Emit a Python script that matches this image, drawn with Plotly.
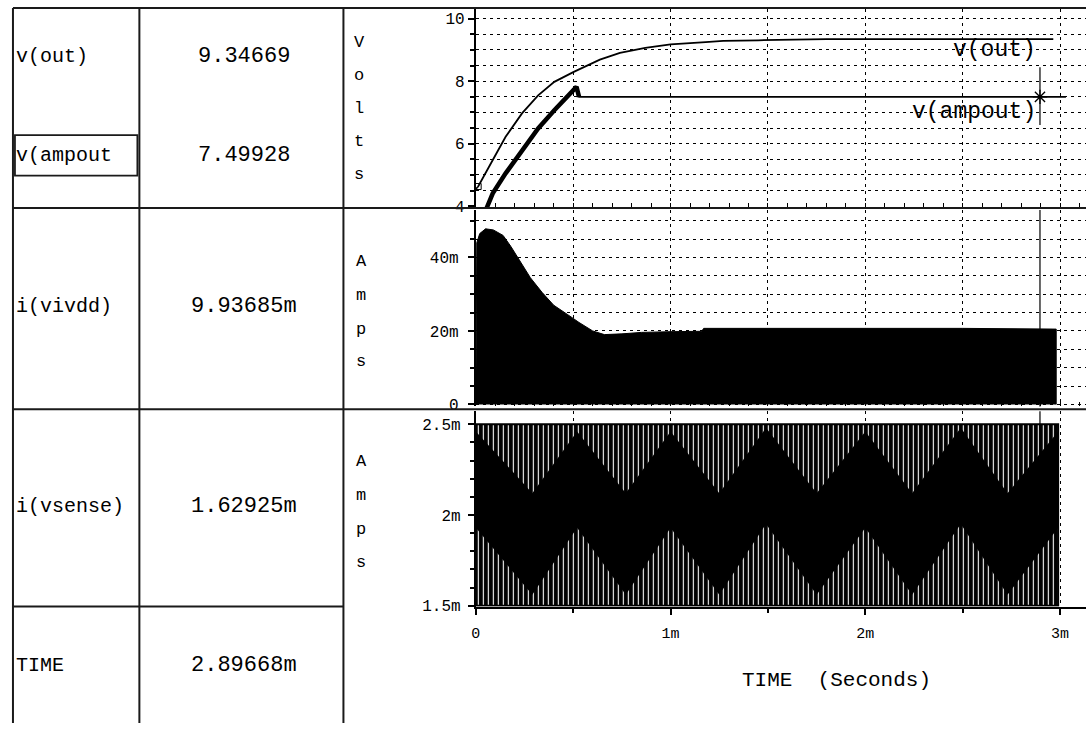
import plotly.graph_objects as go

W, H = 1086, 733
FONT = "Liberation Mono"

# ---------------- data ----------------
# v(out) [V] vs time [ms]
vout_t_ms = [0.0, 0.012, 0.087, 0.153, 0.237, 0.32, 0.403, 0.503, 0.637, 0.74, 0.87,
             1.0, 1.18, 1.27, 1.45, 1.63, 1.8, 2.2, 2.6, 2.965]
vout_v = [4.55, 4.63, 5.48, 6.22, 6.97, 7.55, 7.98, 8.30, 8.69, 8.91, 9.07,
          9.18, 9.25, 9.29, 9.31, 9.33, 9.345, 9.347, 9.347, 9.347]

# v(ampout) [V] vs time [ms]
ampout_t_ms = [0.053, 0.087, 0.153, 0.237, 0.32, 0.403, 0.487, 0.517, 0.53, 1.0, 2.0, 3.03]
ampout_v = [3.9, 4.41, 5.05, 5.8, 6.49, 7.07, 7.6, 7.82, 7.5, 7.5, 7.5, 7.5]
ampout_ripple_end_ms = 0.53

# i(vivdd) envelope [mA] vs time [ms]
ivdd_t_ms = [0.0, 0.005, 0.02, 0.05, 0.09, 0.14, 0.18, 0.22, 0.28, 0.34, 0.40, 0.47,
             0.53, 0.60, 0.66, 0.75, 0.85, 1.0, 1.16, 1.17, 1.5, 2.0, 2.5, 2.98, 2.98]
ivdd_max_ma = [0, 44, 46.5, 47.8, 47.5, 46, 43, 39.5, 34.5, 30.5, 27, 24.5,
               22.3, 20, 19, 19.2, 19.6, 19.8, 19.9, 20.7, 20.7, 20.8, 20.7, 20.5, 0]

# i(vsense) swing [mA] and its dense (dark) band [mA] vs time [ms]
vsense_t_ms = [0.0, 2.99]
vsense_max_ma = [2.5, 2.5]
vsense_min_ma = [1.5, 1.5]
vsense_band_t_ms = [0.0, 0.29, 0.52, 0.77, 1.0, 1.25, 1.49, 1.75, 2.0, 2.24, 2.49, 2.73, 2.99]
vsense_band_hi_ma = [2.46, 2.12, 2.46, 2.12, 2.46, 2.12, 2.48, 2.12, 2.46, 2.12, 2.48, 2.12, 2.46]
vsense_band_lo_ma = [1.93, 1.56, 1.93, 1.56, 1.93, 1.56, 1.95, 1.56, 1.93, 1.56, 1.95, 1.56, 1.93]

# cursor readout table
table_names = ["v(out)", "v(ampout", "i(vivdd)", "i(vsense)", "TIME"]
table_values = ["9.34669", "7.49928", "9.93685m", "1.62925m", "2.89668m"]
cursor_t_ms = 2.89668
cursor_ampout_v = 7.49928

x_ticks_ms = [0, 1, 2, 3]
x_grid_ms = [0, 0.5, 1, 1.5, 2, 2.5, 3]
# --------------------------------------------------------------

ms = lambda a: [v * 1e-3 for v in a]
mA = lambda a: [v * 1e-3 for v in a]

fig = go.Figure()
LW = 1.8

# panel 1
fig.add_trace(go.Scatter(x=ms(vout_t_ms), y=vout_v, mode="lines",
                         line=dict(color="black", width=LW), xaxis="x", yaxis="y"))
rip_t = [t for t in ampout_t_ms if t <= ampout_ripple_end_ms]
rip_v = ampout_v[:len(rip_t)]
fig.add_trace(go.Scatter(x=ms(rip_t), y=rip_v, mode="lines",
                         line=dict(color="black", width=4.5), xaxis="x", yaxis="y"))
fig.add_trace(go.Scatter(x=ms(ampout_t_ms), y=ampout_v, mode="lines",
                         line=dict(color="black", width=LW), xaxis="x", yaxis="y"))
fig.add_trace(go.Scatter(x=ms([vout_t_ms[1]]), y=[vout_v[1]], mode="markers",
                         marker=dict(symbol="square-open", size=6, color="black"),
                         xaxis="x", yaxis="y"))
ct = cursor_t_ms * 1e-3
fig.add_trace(go.Scatter(x=[ct, ct], y=[6.6, 8.45], mode="lines",
                         line=dict(color="black", width=1.2), xaxis="x", yaxis="y"))
fig.add_trace(go.Scatter(x=[ct], y=[cursor_ampout_v], mode="markers",
                         marker=dict(symbol="asterisk-open", size=12, color="black",
                                     line=dict(color="black", width=1.3)),
                         xaxis="x", yaxis="y"))

# panel 2
fig.add_trace(go.Scatter(x=ms(ivdd_t_ms), y=mA(ivdd_max_ma), mode="lines", fill="toself",
                         fillcolor="black", line=dict(color="black", width=1),
                         xaxis="x2", yaxis="y2"))
fig.add_trace(go.Scatter(x=[ct, ct], y=[-1e-3, 54e-3], mode="lines",
                         line=dict(color="black", width=1.2), xaxis="x2", yaxis="y2"))

# panel 3
bx = ms(vsense_t_ms) + ms(vsense_t_ms[::-1])
by = mA(vsense_max_ma) + mA(vsense_min_ma[::-1])
fig.add_trace(go.Scatter(x=bx, y=by, mode="lines", fill="toself",
                         line=dict(color="black", width=2),
                         fillpattern=dict(shape="|", size=5, solidity=0.22,
                                          fgcolor="white", bgcolor="black",
                                          fillmode="replace"),
                         xaxis="x3", yaxis="y3"))
dx = ms(vsense_band_t_ms) + ms(vsense_band_t_ms[::-1])
dy = mA(vsense_band_hi_ma) + mA(vsense_band_lo_ma[::-1])
fig.add_trace(go.Scatter(x=dx, y=dy, mode="lines", fill="toself", fillcolor="black",
                         line=dict(color="black", width=0), xaxis="x3", yaxis="y3"))
fig.add_trace(go.Scatter(x=[ct, ct], y=[1.5e-3, 2.6e-3], mode="lines",
                         line=dict(color="black", width=1.2), xaxis="x3", yaxis="y3"))


def fy(px):
    return 1 - px / H


GRID = dict(showgrid=True, gridcolor="black", gridwidth=1.2, griddash="3px,4px")
xdom = [473 / W, 1.0]
xrange = [0, 3.133e-3]

# upper panels: dotted grid every 0.5 ms, small ticks along the bottom edge
xupper = dict(domain=xdom, range=xrange, tickvals=ms(x_grid_ms), showticklabels=False,
              ticks="", zeroline=False, **GRID,
              minor=dict(dtick=0.1e-3, tick0=0, ticks="inside", ticklen=4,
                         tickcolor="black", tickwidth=1, showgrid=False))

ycommon = dict(showline=True, linecolor="black", linewidth=2, ticks="outside",
               ticklen=6, tickcolor="black", tickwidth=1.5, zeroline=False,
               tickfont=dict(family=FONT, size=16, color="black"))

layout = dict(
    width=W, height=H, margin=dict(l=0, r=0, t=0, b=0),
    paper_bgcolor="white", plot_bgcolor="white", showlegend=False,
    hovermode=False,
    font=dict(family=FONT, size=15, color="black"),
    xaxis=dict(anchor="y", **xupper),
    xaxis2=dict(anchor="y2", matches="x", **xupper),
    xaxis3=dict(anchor="y3", matches="x", domain=xdom, range=xrange,
                tickvals=ms(x_ticks_ms), tickformat="~s", zeroline=False, **GRID,
                minor=dict(dtick=0.5e-3, tick0=0, ticks="outside", ticklen=4,
                           tickcolor="black", **GRID),
                showticklabels=True, ticks="outside", ticklabelstandoff=5,
                ticklen=6, tickcolor="black", tickwidth=1.5, showline=True,
                linecolor="black", linewidth=2,
                tickfont=dict(family=FONT, size=15, color="black")),
    yaxis=dict(anchor="x", domain=[fy(210), fy(9)], range=[3.97, 10.315],
               tickvals=[4, 6, 8, 10], **GRID,
               minor=dict(dtick=0.5, tick0=0, ticks="outside", ticklen=4,
                          tickcolor="black", **GRID), **ycommon),
    yaxis2=dict(anchor="x2", domain=[fy(412), fy(213)], range=[-0.54e-3, 52.9e-3],
                tickvals=[0, 0.02, 0.04], tickformat="~s", ticklabelstandoff=6, **GRID,
                minor=dict(dtick=0.005, tick0=0, ticks="outside", ticklen=4,
                           tickcolor="black", **GRID), **ycommon),
    yaxis3=dict(anchor="x3", domain=[fy(615), fy(417)], range=[1.495e-3, 2.571e-3],
                tickvals=[1.5e-3, 2e-3, 2.5e-3], tickformat="~s", showgrid=False,
                ticklabelstandoff=4,
                minor=dict(dtick=0.1e-3, tick0=0, ticks="outside", ticklen=4,
                           tickcolor="black"), **ycommon),
)
fig.update_layout(**layout)

# table frame
LC = "#1a1a1a"
lines = [
    (8, 8, W, 8), (8, 8, 8, H), (135, 8, 135, H), (340, 8, 340, H),
    (8, 211, W, 211), (8, 415, W, 415), (8, 615, 340, 615),
]
for x0, y0, x1, y1 in lines:
    fig.add_shape(type="line", xref="paper", yref="paper",
                  x0=x0 / W, x1=x1 / W, y0=fy(y0), y1=fy(y1),
                  line=dict(color=LC, width=2))
fig.add_shape(type="rect", xref="paper", yref="paper",
              x0=10 / W, x1=133 / W, y0=fy(178), y1=fy(137),
              line=dict(color=LC, width=1.8))


def txt(s, x, y, size, anchor="left"):
    fig.add_annotation(text=s, xref="paper", yref="paper", x=x / W, y=fy(y),
                       xanchor=anchor, yanchor="middle", showarrow=False,
                       font=dict(family=FONT, size=size, color="black"))


row_y = [57, 158, 311, 513, 675]
for name, val, y in zip(table_names, table_values, row_y):
    txt(name, 9, y, 20)
    txt(val, 240, y, 22, "center")

for ch, y in zip("Volts", [43, 77, 110, 143, 177]):
    txt(ch, 356, y, 17, "center")
for ch, y in zip("Amps", [265, 300, 334, 367]):
    txt(ch, 358, y, 17, "center")
for ch, y in zip("Amps", [468, 502, 537, 570]):
    txt(ch, 358, y, 17, "center")

txt("TIME  (Seconds)", 835, 690, 21, "center")

# trace labels in panel 1
for s, yv in [("v(out)", 9.0), ("v(ampout)", 7.0)]:
    fig.add_annotation(text=s, xref="x", yref="y", x=2.885e-3, y=yv, xanchor="right",
                       yanchor="middle", showarrow=False,
                       font=dict(family=FONT, size=23, color="black"))

fig.write_html("out.html")
